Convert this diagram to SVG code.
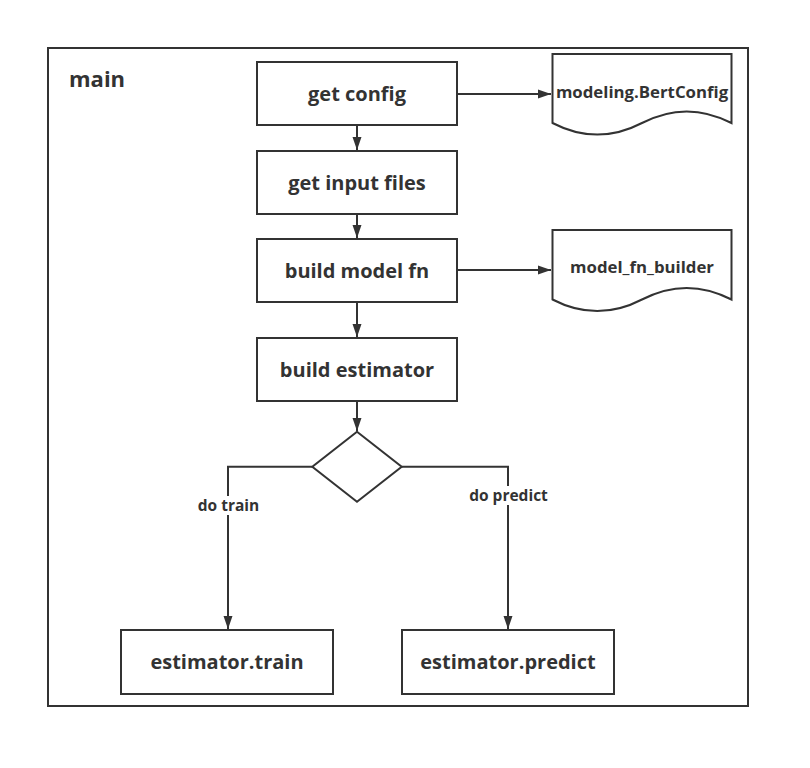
<svg xmlns="http://www.w3.org/2000/svg" width="810" height="768" viewBox="0 0 810 768">
  <style>
    .box { fill: #ffffff; stroke: #333333; stroke-width: 2; }
    .frame { fill: #ffffff; stroke: #333333; stroke-width: 2; }
    .edge { fill: none; stroke: #333333; stroke-width: 2; }
    .lbl { font-family: "Open Sans", "Noto Sans", "DejaVu Sans", sans-serif; font-weight: bold; fill: #333333; text-anchor: middle; }
    .big { font-size: 20px; }
    .doc { font-size: 16.8px; }
    .small { font-size: 15.5px; }
    .main { font-size: 22px; text-anchor: start; }
  </style>
  <defs>
    <marker id="arrow" markerUnits="userSpaceOnUse" markerWidth="14" markerHeight="10" refX="13" refY="5" orient="auto">
      <path d="M0,0.5 L13,5 L0,9.5 Z" fill="#333333"/>
    </marker>
  </defs>
  <rect width="810" height="768" fill="#ffffff"/>
  <g id="frame">
    <rect class="frame" x="48" y="48" width="700" height="658"/>
    <text class="lbl main" x="69" y="87">main</text>
  </g>
  <g id="connectors">
    <path class="edge" d="M457,94 H551" marker-end="url(#arrow)"/>
    <path class="edge" d="M357,125 V150" marker-end="url(#arrow)"/>
    <path class="edge" d="M357,214 V238" marker-end="url(#arrow)"/>
    <path class="edge" d="M457,270 H551" marker-end="url(#arrow)"/>
    <path class="edge" d="M357,302 V337" marker-end="url(#arrow)"/>
    <path class="edge" d="M357,401 V431" marker-end="url(#arrow)"/>
    <path class="edge" d="M312,466.7 H228 V629" marker-end="url(#arrow)"/>
    <path class="edge" d="M401.7,466.7 H508 V629" marker-end="url(#arrow)"/>
    <g id="label-train">
      <rect x="196" y="496" width="65" height="19" fill="#ffffff"/>
      <text class="lbl small" x="228.5" y="511">do train</text>
    </g>
    <g id="label-predict">
      <rect x="467" y="486" width="83" height="19" fill="#ffffff"/>
      <text class="lbl small" x="508.5" y="501">do predict</text>
    </g>
  </g>
  <g id="get-config">
    <rect class="box" x="257" y="62" width="200" height="63"/>
    <text class="lbl big" x="357" y="101">get config</text>
  </g>
  <g id="get-input-files">
    <rect class="box" x="257" y="151" width="200" height="63"/>
    <text class="lbl big" x="357" y="190">get input files</text>
  </g>
  <g id="build-model-fn">
    <rect class="box" x="257" y="239" width="200" height="63"/>
    <text class="lbl big" x="357" y="278">build model fn</text>
  </g>
  <g id="build-estimator">
    <rect class="box" x="257" y="338" width="200" height="63"/>
    <text class="lbl big" x="357" y="377">build estimator</text>
  </g>
  <g id="decision">
    <path class="box" d="M357,431.7 L401.7,466.7 L357,501.7 L312.3,466.7 Z"/>
  </g>
  <g id="estimator-train">
    <rect class="box" x="121" y="630" width="212" height="64"/>
    <text class="lbl big" x="227" y="669">estimator.train</text>
  </g>
  <g id="estimator-predict">
    <rect class="box" x="402" y="630" width="212" height="64"/>
    <text class="lbl big" x="508" y="669">estimator.predict</text>
  </g>
  <g id="modeling-bertconfig">
    <path class="box" d="M552.5,54 H731.5 V123 Q686.6,99.8 642,123 Q597.3,146.2 552.5,123 Z"/>
    <text class="lbl doc" x="642" y="97.5">modeling.BertConfig</text>
  </g>
  <g id="model-fn-builder">
    <path class="box" d="M552.5,230 H731.5 V299.5 Q686.6,276.3 642,299.5 Q597.3,322.7 552.5,299.5 Z"/>
    <text class="lbl doc" x="642" y="272.5">model_fn_builder</text>
  </g>
</svg>
